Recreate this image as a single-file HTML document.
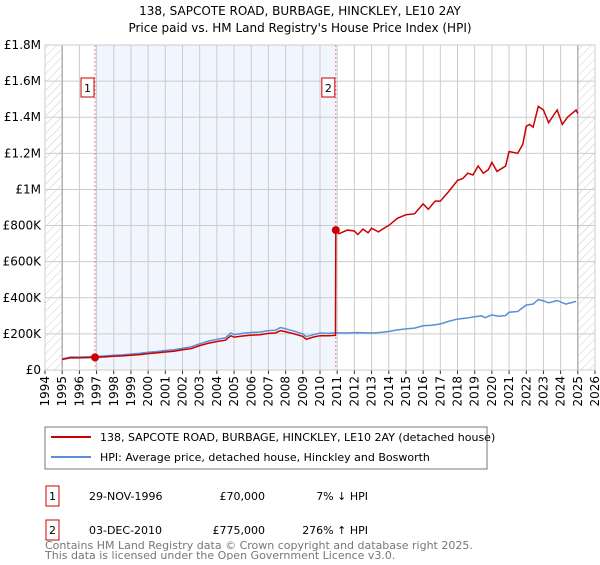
<!DOCTYPE html>
<html><head><meta charset="utf-8"><style>
body{margin:0;background:#fff;font-family:"Liberation Sans","DejaVu Sans",sans-serif;}
svg text{font-family:"DejaVu Sans","Liberation Sans",sans-serif;}
</style></head><body>
<svg id="c" width="600" height="560" xmlns="http://www.w3.org/2000/svg">
<defs><pattern id="hatch" width="6" height="6" patternUnits="userSpaceOnUse" patternTransform="rotate(45)"><line x1="0" y1="0" x2="0" y2="6" stroke="#ccc" stroke-width="1"/></pattern></defs>
<text x="300" y="15" text-anchor="middle" font-size="12">138, SAPCOTE ROAD, BURBAGE, HINCKLEY, LE10 2AY</text>
<text x="300" y="32" text-anchor="middle" font-size="12">Price paid vs. HM Land Registry's House Price Index (HPI)</text>
<g id="plot"></g>
<rect x="45" y="427" width="442" height="42" fill="#fff" stroke="#777"/>
<line x1="51" y1="437" x2="91" y2="437" stroke="#cc0000" stroke-width="2"/>
<text x="100" y="441" font-size="11">138, SAPCOTE ROAD, BURBAGE, HINCKLEY, LE10 2AY (detached house)</text>
<line x1="51" y1="457" x2="91" y2="457" stroke="#5b8fd4" stroke-width="2"/>
<text x="100" y="461" font-size="11">HPI: Average price, detached house, Hinckley and Bosworth</text>
<rect x="46" y="486" width="13" height="20" fill="#fff" stroke="#cc0000"/>
<text x="52.5" y="500" font-size="11" text-anchor="middle">1</text>
<text x="89" y="500" font-size="11">29-NOV-1996</text>
<text x="265" y="500" font-size="11" text-anchor="end">£70,000</text>
<text x="368" y="500" font-size="11" text-anchor="end">7% ↓ HPI</text>
<rect x="46" y="520" width="13" height="20" fill="#fff" stroke="#cc0000"/>
<text x="52.5" y="534" font-size="11" text-anchor="middle">2</text>
<text x="89" y="534" font-size="11">03-DEC-2010</text>
<text x="265" y="534" font-size="11" text-anchor="end">£775,000</text>
<text x="368" y="534" font-size="11" text-anchor="end">276% ↑ HPI</text>
<text x="45" y="549" font-size="11" fill="#777">Contains HM Land Registry data © Crown copyright and database right 2025.</text>
<text x="45" y="560" font-size="11" fill="#777" dy="-1">This data is licensed under the Open Government Licence v3.0.</text>
</svg>
<script>
const yTicks=[0,200000,400000,600000,800000,1000000,1200000,1400000,1600000,1800000];
const yTickLabels=["£0","£200K","£400K","£600K","£800K","£1M","£1.2M","£1.4M","£1.6M","£1.8M"];
const xYears=[1994,1995,1996,1997,1998,1999,2000,2001,2002,2003,2004,2005,2006,2007,2008,2009,2010,2011,2012,2013,2014,2015,2016,2017,2018,2019,2020,2021,2022,2023,2024,2025,2026];
const hpiDates=[1995.0,1995.5,1996.0,1996.9,1997.5,1998,1998.5,1999,1999.5,2000,2000.5,2001,2001.5,2002,2002.5,2003,2003.5,2004,2004.5,2004.8,2005,2005.5,2006,2006.5,2007,2007.4,2007.7,2008,2008.5,2009.0,2009.2,2009.6,2010,2010.5,2010.9,2011.5,2012,2012.5,2013,2013.5,2014,2014.5,2015,2015.5,2016,2016.5,2017,2017.5,2018,2018.5,2019,2019.4,2019.6,2020,2020.4,2020.8,2021,2021.5,2022,2022.4,2022.7,2023,2023.3,2023.8,2024.3,2024.9];
const hpiValues=[62000,72000,72000,75000,78000,82000,84000,88000,92000,98000,102000,108000,112000,120000,128000,145000,160000,170000,178000,205000,196000,203000,208000,210000,218000,220000,235000,228000,215000,200000,185000,195000,205000,203000,206000,205000,207000,206000,205000,208000,213000,222000,228000,232000,245000,248000,255000,270000,282000,287000,295000,300000,290000,305000,298000,302000,320000,324000,360000,365000,390000,383000,372000,385000,365000,380000];
const ppDates=[1995.0,1995.5,1996.0,1996.9,1997.5,1998,1998.5,1999,1999.5,2000,2000.5,2001,2001.5,2002,2002.5,2003,2003.5,2004,2004.5,2004.8,2005,2005.5,2006,2006.5,2007,2007.4,2007.7,2008,2008.5,2009.0,2009.2,2009.6,2010,2010.5,2010.9,2010.92,2011.1,2011.6,2012,2012.2,2012.5,2012.8,2013,2013.4,2013.8,2014,2014.5,2015,2015.5,2016,2016.3,2016.7,2017,2017.5,2018,2018.3,2018.6,2018.9,2019.2,2019.5,2019.8,2020,2020.3,2020.8,2021,2021.5,2021.8,2022,2022.2,2022.4,2022.7,2023,2023.3,2023.8,2024.1,2024.4,2024.9,2025.0];
const ppValues=[58000,68000,67000,70000,73000,76000,78000,82000,85000,91000,95000,100000,104000,112000,118000,135000,148000,158000,165000,190000,182000,188000,193000,195000,203000,205000,218000,212000,200000,186000,170000,182000,190000,190000,192000,775000,755000,775000,770000,750000,780000,760000,785000,765000,790000,800000,840000,860000,865000,920000,890000,935000,935000,990000,1050000,1060000,1090000,1080000,1130000,1090000,1110000,1150000,1100000,1130000,1210000,1200000,1250000,1350000,1360000,1345000,1460000,1440000,1370000,1440000,1360000,1400000,1440000,1420000];
const saleDates=[1996.91,2010.92];
const saleValues=[70000,775000];
const saleLabels=["1","2"];

const NS="http://www.w3.org/2000/svg";
const L=45,R=595,T=45,B=370;
const x=d=>L+(d-1994)/(2026-1994)*(R-L);
const y=v=>B-v/1800000*(B-T);
const g=document.getElementById('plot');
function mk(t,a,p){const e=document.createElementNS(NS,t);for(const k in a)e.setAttribute(k,a[k]);(p||g).appendChild(e);return e;}

let e=mk('rect',{x:L,y:T,width:R-L,height:B-T,fill:'#fff'});


e=mk('rect',{x:L,y:T,width:x(1995)-L,height:B-T,fill:'url(#hatch)'});


e=mk('rect',{x:x(2025),y:T,width:R-x(2025),height:B-T,fill:'url(#hatch)'});


e=mk('rect',{x:x(saleDates[0]),y:T,width:x(saleDates[1])-x(saleDates[0]),height:B-T,fill:'#eef3fc',opacity:0.8});



yTicks.forEach((v,i)=>{
  let ln=mk('line',{x1:L,x2:R,y1:y(v),y2:y(v),stroke:'#ccc'});
  
  
  let t=mk('text',{x:L-4,y:y(v)+4,'text-anchor':'end','font-size':12});
  t.textContent=yTickLabels[i];
  
  
});
xYears.forEach(yr=>{
  let ln=mk('line',{x1:x(yr),x2:x(yr),y1:T,y2:B,stroke:'#ccc'});
  
  
  let tk=mk('line',{x1:x(yr),x2:x(yr),y1:B,y2:B+4,stroke:'#333'});
  
  
  let t=mk('text',{x:0,y:0,'text-anchor':'end','font-size':12,transform:`translate(${x(yr)+4},${B+6}) rotate(-90)`});
  t.textContent=yr;
  
  
});
[1995,2025].forEach(yr=>{let b=mk('line',{x1:x(yr),x2:x(yr),y1:T,y2:B,stroke:'#999'});

});
saleDates.forEach(d=>{let s=mk('line',{x1:x(d),x2:x(d),y1:T,y2:B,stroke:'#e66','stroke-dasharray':'2,2','stroke-width':0.8});

});

e=mk('polyline',{points:hpiDates.map((d,i)=>x(d)+','+y(hpiValues[i])).join(' '),fill:'none',stroke:'#5b8fd4','stroke-width':1.5});


e=mk('polyline',{points:ppDates.map((d,i)=>x(d)+','+y(ppValues[i])).join(' '),fill:'none',stroke:'#cc0000','stroke-width':1.5});



saleDates.forEach((d,i)=>{
  let c=mk('circle',{cx:x(d),cy:y(saleValues[i]),r:4,fill:'#cc0000'});
  
  
  let bx=mk('rect',{x:x(d)-14,y:78,width:13,height:19,fill:'#fff',stroke:'#cc0000'});
  
  
  let t=mk('text',{x:x(d)-7.5,y:92,'text-anchor':'middle','font-size':11});
  t.textContent=saleLabels[i];
  
  
});
e=mk('rect',{x:L,y:T,width:R-L,height:B-T,fill:'none',stroke:'#ccc'});


</script>
</body></html>
